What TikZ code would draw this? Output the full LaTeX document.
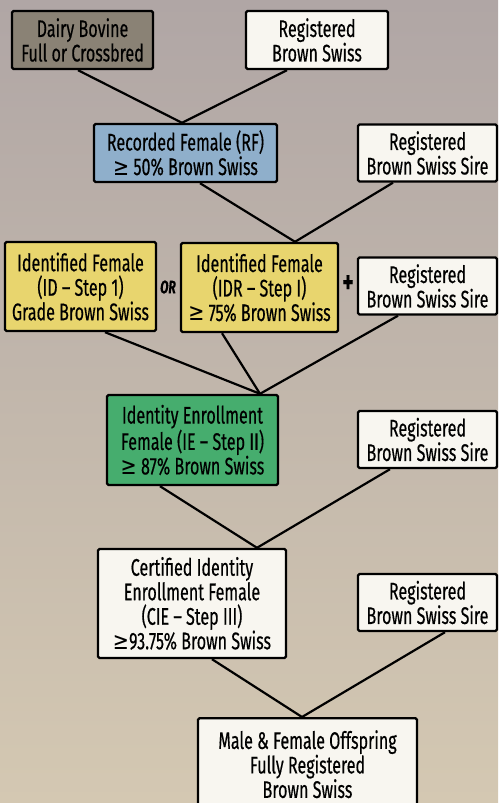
\documentclass[tikz,border=0pt]{standalone}
\usepackage{xcolor}
\usepackage{amssymb}
\usepackage{fontspec}
\setmainfont[FakeStretch=0.67, FakeBold=0.4]{Fira Sans}
\newfontfamily\symfont[FakeStretch=0.8]{DejaVu Sans}
\usepackage{tikz}

\definecolor{bgtop}{HTML}{B0A6A5}
\definecolor{bgbottom}{HTML}{D4C8B2}
\definecolor{paper}{HTML}{F8F6F0}
\definecolor{bovine}{HTML}{8A8275}
\definecolor{recorded}{HTML}{8FAFCB}
\definecolor{identified}{HTML}{E8D56E}
\definecolor{enrolled}{HTML}{46AD6E}

\newcommand{\atleast}{{\symfont ≥}}

\begin{document}
\begin{tikzpicture}[x=1pt, y=-1pt,
	main/.style={draw, line width=2.4pt, rounded corners=1.5pt, fill=paper, align=center, inner sep=0pt, font=\fontsize{24}{24.5}\selectfont},
	sire/.style={main, minimum width=139pt, minimum height=57pt},
	link/.style={line width=2.2pt}]
	%Bakgrunn
	\useasboundingbox (0,0) rectangle (498,803);
	\clip (0,0) rectangle (498,803);
	\shade[top color=bgtop, bottom color=bgbottom] (0,0) rectangle (498,803);

	%Nodene går her
	\node[main, fill=bovine, minimum width=141pt, minimum height=58pt] (1) at (82.5,40) {Dairy Bovine\\Full or Crossbred};
	\node[main, minimum width=142pt, minimum height=58pt] (2) at (317,40) {Registered\\Brown Swiss};
	\node[main, fill=recorded, minimum width=183pt, minimum height=58pt] (3) at (185.5,153) {Recorded Female (RF)\\\atleast{} 50\% Brown Swiss};
	\node[sire] (4) at (427.5,153) {Registered\\Brown Swiss Sire};
	\node[main, fill=identified, minimum width=151pt, minimum height=89pt] (5) at (80.5,286.5) {Identified Female\\(ID -- Step 1)\\Grade Brown Swiss};
	\node[main, fill=identified, minimum width=157pt, minimum height=89pt] (6) at (259.5,287.5) {Identified Female\\(IDR -- Step I)\\\atleast{} 75\% Brown Swiss};
	\node[sire] (7) at (427.5,286) {Registered\\Brown Swiss Sire};
	\node[main, fill=enrolled, minimum width=171pt, minimum height=90pt] (8) at (192.5,440) {Identity Enrollment\\Female (IE -- Step II)\\\atleast{} 87\% Brown Swiss};
	\node[sire] (9) at (427.5,439.5) {Registered\\Brown Swiss Sire};
	\node[main, minimum width=188pt, minimum height=109pt] (10) at (192,603.5) {Certified Identity\\Enrollment Female\\(CIE -- Step III)\\\atleast{}93.75\% Brown Swiss};
	\node[sire] (11) at (427.5,602.5) {Registered\\Brown Swiss Sire};
	\node[main, anchor=north, minimum width=219pt, minimum height=92pt] (12) at (307.5,717) {Male \& Female Offspring\\Fully Registered\\Brown Swiss};

	\node[font=\bfseries\itshape\fontsize{18}{18}\selectfont] (or) at (168,287) {OR};
	\node[font=\bfseries\fontsize{32}{32}\selectfont] (plus) at (348,284) {+};

	%Kantene defineres her
	\coordinate (j1) at ([xshift=-3.5pt]3.north);
	\coordinate (j2) at ([xshift=35.5pt]6.north);
	\coordinate (j3) at ([xshift=67.5pt]8.north);
	\coordinate (j4) at ([xshift=65pt]10.north);
	\coordinate (j5) at ([xshift=-5.5pt]12.north);
	\draw[link] ([xshift=-4.5pt]1.south) -- (j1) -- ([xshift=-30pt]2.south);
	\draw[link] ([xshift=14.5pt]3.south) -- (j2) -- ([xshift=-34.5pt]4.south);
	\draw[link] ([xshift=24.5pt]5.south) -- (j3) -- ([xshift=-29.5pt]7.south);
	\draw[link] ([xshift=-37.5pt]6.south) -- (j3);
	\draw[link] ([xshift=-32.5pt]8.south) -- (j4) -- ([xshift=-37.5pt]9.south);
	\draw[link] ([xshift=20pt]10.south) -- (j5) -- ([xshift=17.5pt]11.south);
\end{tikzpicture}
\end{document}
